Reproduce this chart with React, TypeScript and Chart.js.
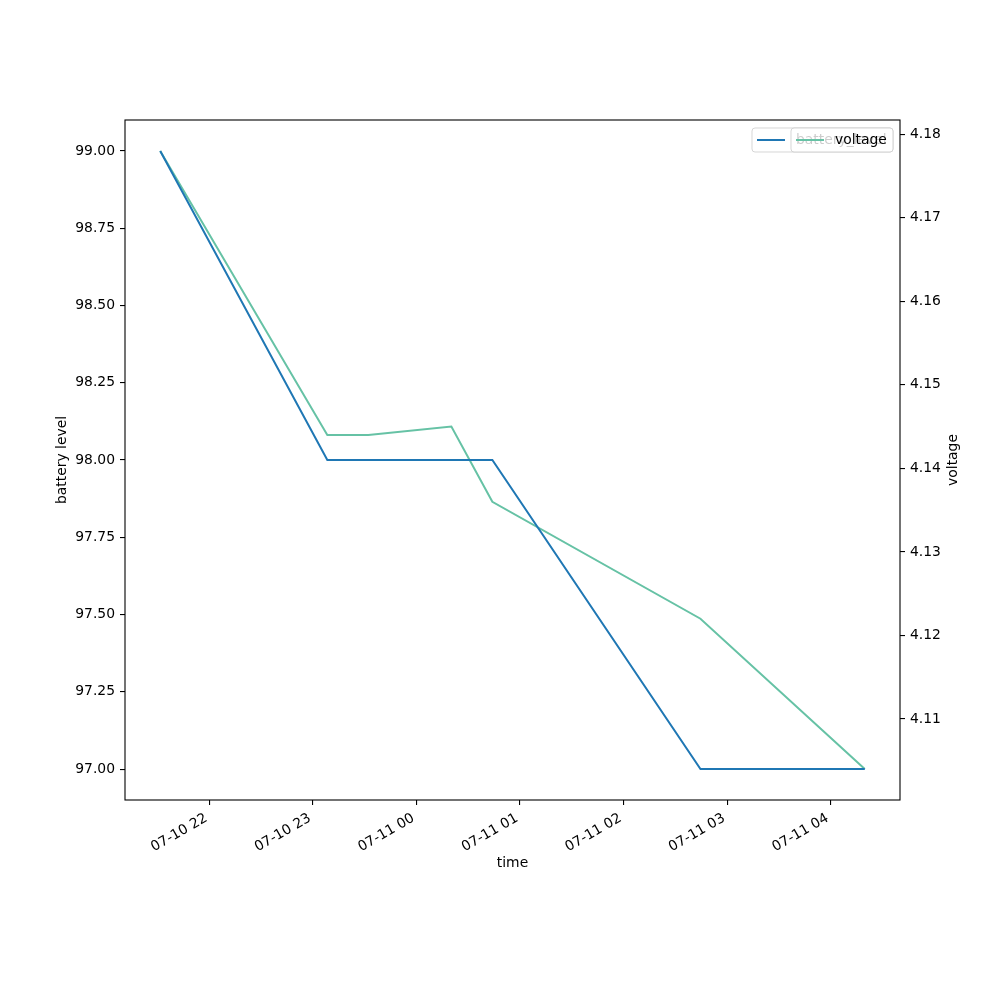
import { useEffect, useRef } from 'react';
import { Chart, registerables } from 'chart.js';

Chart.register(...registerables);

// hours counted from 07-10 00:00
const times = [21.525, 23.139, 23.535, 24.337, 24.733, 26.743, 28.33];
const batteryLevel = [99, 98, 98, 98, 98, 97, 97];
const voltage = [4.178, 4.144, 4.144, 4.145, 4.136, 4.122, 4.104];

const hourTicks = [22, 23, 24, 25, 26, 27, 28];
const batteryTicks = [97, 97.25, 97.5, 97.75, 98, 98.25, 98.5, 98.75, 99];
const voltageTicks = [4.11, 4.12, 4.13, 4.14, 4.15, 4.16, 4.17, 4.18];

const BLUE = '#1f77b4';
const GREEN = '#66c2a5';
const FONT = { family: 'DejaVu Sans', size: 13.9 };

// matplotlib-like 5% margins
const pad = (arr: number[]) => {
  const lo = Math.min(...arr);
  const hi = Math.max(...arr);
  const m = (hi - lo) * 0.05;
  return [lo - m, hi + m];
};

const hourLabel = (h: number) => {
  const day = h >= 24 ? '07-11' : '07-10';
  const hh = String(Math.round(h) % 24).padStart(2, '0');
  return `${day} ${hh}`;
};

const decorations = {
  id: 'decorations',
  afterDraw(chart: Chart) {
    const { ctx, chartArea } = chart;
    ctx.save();
    // frame
    ctx.strokeStyle = '#000';
    ctx.lineWidth = 1.1;
    ctx.strokeRect(chartArea.left, chartArea.top, chartArea.right - chartArea.left, chartArea.bottom - chartArea.top);

    // axis titles
    ctx.fillStyle = '#000';
    ctx.font = `${FONT.size}px "DejaVu Sans"`;
    ctx.textAlign = 'center';
    ctx.textBaseline = 'middle';
    ctx.fillText('time', (chartArea.left + chartArea.right) / 2, 863);
    const midY = (chartArea.top + chartArea.bottom) / 2;
    ctx.save();
    ctx.translate(62, midY);
    ctx.rotate(-Math.PI / 2);
    ctx.fillText('battery level', 0, 0);
    ctx.restore();
    ctx.save();
    ctx.translate(953, midY);
    ctx.rotate(-Math.PI / 2);
    ctx.fillText('voltage', 0, 0);
    ctx.restore();

    // two overlapping legends, like twinx legends in matplotlib
    const drawLegend = (x0: number, x1: number, color: string, label: string) => {
      const y0 = 128;
      const y1 = 152;
      ctx.beginPath();
      ctx.roundRect(x0, y0, x1 - x0, y1 - y0, 3);
      ctx.fillStyle = 'rgba(255,255,255,0.8)';
      ctx.fill();
      ctx.strokeStyle = 'rgba(204,204,204,0.8)';
      ctx.lineWidth = 1;
      ctx.stroke();
      const yc = (y0 + y1) / 2;
      ctx.beginPath();
      ctx.moveTo(x0 + 5, yc);
      ctx.lineTo(x0 + 33, yc);
      ctx.strokeStyle = color;
      ctx.lineWidth = 2;
      ctx.stroke();
      ctx.fillStyle = '#000';
      ctx.textAlign = 'left';
      ctx.textBaseline = 'middle';
      ctx.fillText(label, x0 + 44, yc);
    };
    drawLegend(752, 893, BLUE, 'battery_level');
    drawLegend(791, 893, GREEN, 'voltage');
    ctx.restore();
  },
};

export default function App() {
  const canvasRef = useRef<HTMLCanvasElement>(null);

  useEffect(() => {
    document.body.style.margin = '0';
    if (!canvasRef.current) return;
    const [xMin, xMax] = pad(times);
    const [bMin, bMax] = pad(batteryLevel);
    const [vMin, vMax] = pad(voltage);

    const tickCommon = { color: '#000', font: FONT, padding: 5 };
    const gridCommon = { drawOnChartArea: false, tickLength: 5, color: '#000', lineWidth: 1.1 };

    const chart = new Chart(canvasRef.current, {
      type: 'line',
      data: {
        datasets: [
          {
            label: 'battery_level',
            data: times.map((t, i) => ({ x: t, y: batteryLevel[i] })),
            borderColor: BLUE,
            borderWidth: 2,
            pointRadius: 0,
            yAxisID: 'y',
          },
          {
            label: 'voltage',
            data: times.map((t, i) => ({ x: t, y: voltage[i] })),
            borderColor: GREEN,
            borderWidth: 2,
            pointRadius: 0,
            yAxisID: 'y1',
          },
        ],
      },
      options: {
        responsive: false,
        animation: false,
        devicePixelRatio: 1,
        layout: { padding: { top: 120 } },
        plugins: { legend: { display: false }, tooltip: { enabled: false } },
        scales: {
          x: {
            type: 'linear',
            min: xMin,
            max: xMax,
            afterBuildTicks: (s: any) => {
              s.ticks = hourTicks.map((v) => ({ value: v }));
            },
            afterFit: (s: any) => {
              s.height = 200;
            },
            ticks: {
              ...tickCommon,
              autoSkip: false,
              minRotation: 30,
              maxRotation: 30,
              labelOffset: -3,
              callback: (v: any) => hourLabel(Number(v)),
            },
            grid: gridCommon,
            border: { display: false },
          },
          y: {
            position: 'left',
            min: bMin,
            max: bMax,
            afterBuildTicks: (s: any) => {
              s.ticks = batteryTicks.map((v) => ({ value: v }));
            },
            afterFit: (s: any) => {
              s.width = 125;
            },
            ticks: { ...tickCommon, callback: (v: any) => Number(v).toFixed(2) },
            grid: gridCommon,
            border: { display: false },
          },
          y1: {
            position: 'right',
            min: vMin,
            max: vMax,
            afterBuildTicks: (s: any) => {
              s.ticks = voltageTicks.map((v) => ({ value: v }));
            },
            afterFit: (s: any) => {
              s.width = 100;
            },
            ticks: { ...tickCommon, callback: (v: any) => Number(v).toFixed(2) },
            grid: gridCommon,
            border: { display: false },
          },
        },
      },
      plugins: [decorations],
    });

    return () => chart.destroy();
  }, []);

  return (
    <div style={{ width: 1000, height: 1000, background: '#fff' }}>
      <canvas ref={canvasRef} width={1000} height={1000} style={{ display: 'block' }} />
    </div>
  );
}
